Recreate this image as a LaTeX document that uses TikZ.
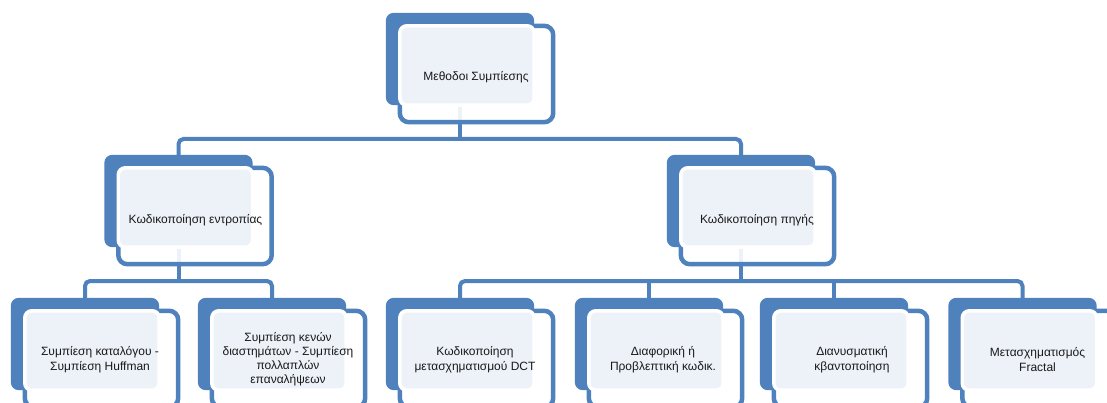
\documentclass[tikz,border=0pt]{standalone}
\usepackage{fontspec}
\setmainfont{Liberation Sans}
\usetikzlibrary{calc}
\definecolor{sblue}{HTML}{4F81BD}
\definecolor{slight}{HTML}{EDF2F9}
\begin{document}
\begin{tikzpicture}[x=1pt,y=-1pt,
  back/.style={rectangle, minimum width=148pt, minimum height=92pt, inner sep=0pt},
  conn/.style={draw=sblue, line width=4pt, rounded corners=5pt},
  vconn/.style={draw=sblue, line width=4pt},
  frontbox/.style={draw=sblue, line width=4.5pt, fill=white, fill opacity=0.9, rounded corners=9pt},
  backbox/.style={fill=sblue, rounded corners=8pt},
  lightbox/.style={draw=white, line width=3.5pt, fill=slight, rounded corners=7pt},
  lbl/.style={align=center, font=\fontsize{12}{15}\selectfont, text=black!90, inner sep=0pt}]
\useasboundingbox (0,0) rectangle (1107,403);
\clip (0,0) rectangle (1107,403);
\fill[white] (0,0) rectangle (1107,403);
% anchor nodes (blue back shapes)
\node[back] (n0) at (460,59) {};
\node[back] (n1) at (178.5,201) {};
\node[back] (n2) at (741,201) {};
\node[back] (n11) at (85,344) {};
\node[back] (n12) at (272,344) {};
\node[back] (n21) at (460,344) {};
\node[back] (n22) at (649,344) {};
\node[back] (n23) at (834,344) {};
\node[back] (n24) at (1022.5,344) {};
\coordinate (bar0) at (0,139);
\coordinate (bar1) at (0,281);
% connectors
\draw[vconn] (n0.center) -- (n0.center |- bar0);
\draw[conn] (n1.center) -- (n1.center |- bar0) -- (n2.center |- bar0) -- (n2.center);
\draw[vconn] (n1.center) -- (n1.center |- bar1);
\draw[conn] (n11.center) -- (n11.center |- bar1) -- (n12.center |- bar1) -- (n12.center);
\draw[vconn] (n2.center) -- (n2.center |- bar1);
\draw[conn] (n21.center) -- (n21.center |- bar1) -- (n24.center |- bar1) -- (n24.center);
\draw[vconn] (n22.center) -- (n22.center |- bar1);
\draw[vconn] (n23.center) -- (n23.center |- bar1);
% shapes
\foreach \n in {n0,n1,n2,n11,n12,n21,n22,n23,n24}{
  \draw[frontbox] ($(\n.north west)+(14,13)$) rectangle ($(\n.south east)+(19,17)$);
  \fill[backbox] (\n.north west) rectangle (\n.south east);
  \draw[lightbox] ($(\n.north west)+(14,13)$) rectangle (\n.south east);
}
% labels
\node[lbl] (t0) at ($(n0.center)+(16,18)$) {Μεθοδοι Συμπίεσης};
\node[lbl] (t1) at ($(n1.center)+(17,19)$) {Κωδικοποίηση εντροπίας};
\node[lbl] (t2) at ($(n2.center)+(16,19)$) {Κωδικοποίηση πηγής};
\node[lbl] (t11) at ($(n11.center)+(15,16)$) {Συμπίεση καταλόγου -\\Συμπίεση Huffman};
\node[lbl, font=\fontsize{12}{14}\selectfont] (t12) at ($(n12.center)+(16,15)$) {Συμπίεση κενών\\διαστημάτων - Συμπίεση\\πολλαπλών\\επαναλήψεων};
\node[lbl] (t21) at ($(n21.center)+(15,16)$) {Κωδικοποίηση\\μετασχηματισμού DCT};
\node[lbl] (t22) at ($(n22.center)+(14,16)$) {Διαφορική ή\\Προβλεπτική κωδικ.};
\node[lbl] (t23) at ($(n23.center)+(18,16)$) {Διανυσματική\\κβαντοποίηση};
\node[lbl] (t24) at ($(n24.center)+(15,16)$) {Μετασχηματισμός\\Fractal};
\end{tikzpicture}
\end{document}
